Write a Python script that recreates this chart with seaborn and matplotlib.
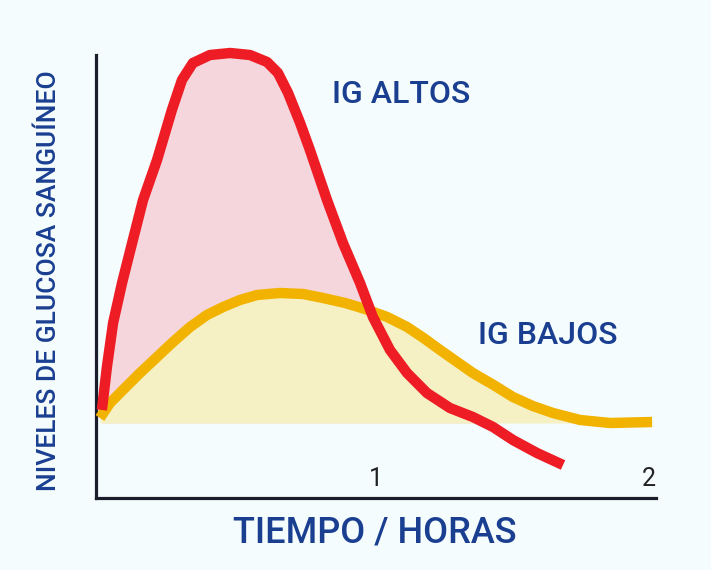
import matplotlib
matplotlib.use("Agg")
import matplotlib.pyplot as plt
import seaborn as sns
import pandas as pd

# tiempo en horas / nivel de glucosa (unidades relativas)
alto_t = [0.021, 0.039, 0.061, 0.093, 0.129, 0.168, 0.218, 0.271, 0.307, 0.346, 0.407,
          0.479, 0.550, 0.611, 0.650, 0.686, 0.729, 0.764, 0.825, 0.882, 0.943, 0.989,
          1.050, 1.111, 1.182, 1.264, 1.346, 1.418, 1.489, 1.575, 1.668]
alto_g = [0.88, 1.31, 1.75, 2.15, 2.55, 2.98, 3.38, 3.88, 4.18, 4.35, 4.43,
          4.45, 4.43, 4.36, 4.25, 4.05, 3.75, 3.48, 2.98, 2.55, 2.15, 1.81,
          1.48, 1.25, 1.05, 0.90, 0.81, 0.71, 0.58, 0.45, 0.33]

bajo_t = [0.014, 0.050, 0.096, 0.157, 0.218, 0.275, 0.336, 0.396, 0.454, 0.514, 0.575,
          0.657, 0.740, 0.811, 0.890, 0.961, 1.040, 1.111, 1.170, 1.229, 1.290, 1.346,
          1.420, 1.489, 1.560, 1.632, 1.729, 1.836, 1.986]
bajo_g = [0.80, 0.95, 1.08, 1.25, 1.41, 1.56, 1.71, 1.83, 1.91, 1.98, 2.03,
          2.05, 2.04, 2.00, 1.95, 1.89, 1.81, 1.71, 1.60, 1.48, 1.36, 1.25,
          1.13, 1.01, 0.92, 0.85, 0.78, 0.75, 0.76]

basal = 0.75
ticks_horas = [1, 2]

bg = "#f5fcfd"
azul = "#1a3f91"
rojo = "#ee1c24"
amarillo = "#f2b300"

sns.set_style("white")
plt.rcParams['font.family'] = ['Roboto', 'DejaVu Sans']

fig = plt.figure(figsize=(7.11, 5.70), dpi=100, facecolor=bg)
ax = fig.add_axes([96 / 711, 72 / 570, 560 / 711, 460 / 570])
ax.set_facecolor(bg)

alto = pd.DataFrame({'t': alto_t, 'g': alto_g})
bajo = pd.DataFrame({'t': bajo_t, 'g': bajo_g})

ax.fill_between(alto['t'], alto['g'], basal, where=alto['g'] >= basal,
                color="#f5d6dc", lw=0, interpolate=True, zorder=1)
ax.fill_between(bajo['t'], bajo['g'], basal, where=bajo['g'] >= basal,
                color="#f6f1c4", lw=0, interpolate=True, zorder=2)

sns.lineplot(data=bajo, x='t', y='g', sort=False, color=amarillo, lw=7.5,
             solid_capstyle='butt', solid_joinstyle='round', ax=ax, zorder=3)
sns.lineplot(data=alto, x='t', y='g', sort=False, color=rojo, lw=7.5,
             solid_capstyle='butt', solid_joinstyle='round', ax=ax, zorder=4)

ax.set_xlim(0, 2)
ax.set_ylim(0, 4.6)
ax.spines['top'].set_visible(False)
ax.spines['right'].set_visible(False)
for s in ['left', 'bottom']:
    ax.spines[s].set_color("#1b1d2b")
    ax.spines[s].set_linewidth(2.3)
ax.spines['left'].set_bounds(0, 4.43)

ax.set_yticks([])
ax.set_xticks(ticks_horas)
ax.set_xticklabels([str(t) for t in ticks_horas])
ax.tick_params(axis='x', length=0, pad=-22, labelsize=18, labelcolor="#222222")
ax.get_xticklabels()[-1].set_horizontalalignment('right')

xl = ax.set_xlabel("TIEMPO / HORAS", fontsize=26, fontweight='medium', color=azul)
xl.set_va('center')
ax.xaxis.set_label_coords((375 - 96) / 560, -35 / 460)
ax.set_ylabel("NIVELES DE GLUCOSA SANGUÍNEO", fontsize=19, fontweight='medium', color=azul)
ax.yaxis.set_label_coords(-35 / 560, (498 - 281) / 460)

ax.text(0.843, 4.03, "IG ALTOS", fontsize=23, fontweight='medium', color=azul,
        va='center', ha='left')
ax.text(1.364, 1.63, "IG BAJOS", fontsize=23, fontweight='medium', color=azul,
        va='center', ha='left')

fig.savefig("out.png", dpi=100, facecolor=bg)
